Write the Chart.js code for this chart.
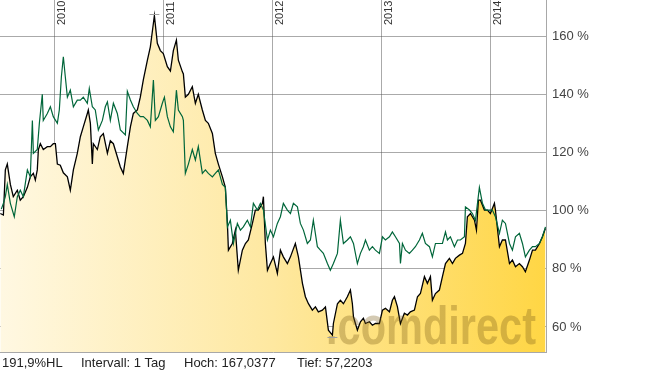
<!DOCTYPE html>
<html>
<head>
<meta charset="utf-8">
<script src="https://cdn.jsdelivr.net/npm/chart.js@4"></script>
<style>
  body { margin: 0; background: #fff; }
  #wrap { width: 645px; height: 372px; }
</style>
</head>
<body>
<div id="wrap"><canvas id="chart" width="645" height="372"></canvas></div>
<script>
// Stock (black, filled) - decimal years and % values
const stockYears = [2009.505, 2009.533, 2009.551, 2009.569, 2009.597, 2009.624, 2009.661, 2009.688, 2009.716, 2009.753,
  2009.780, 2009.808, 2009.826, 2009.844, 2009.854, 2009.872, 2009.899, 2009.936, 2009.964, 2009.991,
  2010.010, 2010.028, 2010.055, 2010.083, 2010.120, 2010.147, 2010.175, 2010.211, 2010.239, 2010.266,
  2010.303, 2010.312, 2010.331, 2010.349, 2010.358, 2010.395, 2010.422, 2010.450, 2010.487, 2010.514,
  2010.542, 2010.578, 2010.606, 2010.633, 2010.670, 2010.698, 2010.725, 2010.762, 2010.789, 2010.817,
  2010.854, 2010.881, 2010.909, 2010.918, 2010.945, 2010.973, 2011.000, 2011.037, 2011.065, 2011.092,
  2011.120, 2011.138, 2011.175, 2011.184, 2011.202, 2011.230, 2011.266, 2011.294, 2011.321, 2011.358,
  2011.386, 2011.413, 2011.450, 2011.477, 2011.505, 2011.542, 2011.569, 2011.588, 2011.597, 2011.633,
  2011.661, 2011.688, 2011.725, 2011.753, 2011.780, 2011.817, 2011.844, 2011.872, 2011.909, 2011.918,
  2011.936, 2011.955, 2011.982, 2012.010, 2012.046, 2012.074, 2012.101, 2012.138, 2012.166, 2012.211,
  2012.239, 2012.276, 2012.303, 2012.331, 2012.367, 2012.395, 2012.422, 2012.459, 2012.487, 2012.514,
  2012.551, 2012.560, 2012.597, 2012.624, 2012.652, 2012.688, 2012.716, 2012.734, 2012.744, 2012.780,
  2012.808, 2012.835, 2012.854, 2012.890, 2012.918, 2012.945, 2012.982, 2013.010, 2013.037, 2013.074,
  2013.101, 2013.120, 2013.147, 2013.175, 2013.211, 2013.239, 2013.266, 2013.303, 2013.331, 2013.358,
  2013.395, 2013.422, 2013.450, 2013.468, 2013.496, 2013.532, 2013.560, 2013.588, 2013.624, 2013.652,
  2013.679, 2013.716, 2013.744, 2013.771, 2013.789, 2013.817, 2013.854, 2013.872, 2013.890, 2013.909,
  2013.945, 2013.973, 2014.000, 2014.037, 2014.046, 2014.083, 2014.110, 2014.138, 2014.175, 2014.202,
  2014.230, 2014.266, 2014.294, 2014.321, 2014.358, 2014.386, 2014.413, 2014.450, 2014.477, 2014.505];
const stockValues = [99, 98.5, 114, 116, 109, 104.8, 107, 103.6, 104.8, 108,
  111.6, 112.8, 110.5, 114, 121, 123, 121, 122, 122, 123,
  123, 116, 115.6, 113, 111.6, 107, 114, 119.7, 125.4, 128.8,
  133.4, 134.6, 130, 116, 123, 121, 125.4, 126.5, 119.7, 124,
  123, 118.5, 115, 112.8, 122, 128.8, 133.4, 134.6, 139, 145,
  151.7, 156.3, 164.4, 167.04, 157.5, 155, 154, 149.5, 148, 155,
  158.6, 151.7, 147.7, 147, 139, 140, 142.6, 136.9, 140, 134.6,
  131, 130, 126.5, 119.7, 116, 111.6, 108, 95.6, 86.4, 88.7,
  93.3, 79.5, 86.4, 88.7, 89.9, 95.6, 100.2, 100.2, 102.5, 104.8,
  88.7, 79.5, 81.8, 84.1, 78.4, 86.4, 84.1, 81.8, 84.1, 88.7,
  84.1, 75, 70.4, 68, 65.8, 66.9, 65.2, 65.8, 66.9, 58.9,
  57.22, 61.2, 68, 69.2, 68, 70.4, 72.7, 68, 63.5, 58.9,
  61.8, 63, 61.2, 61.8, 60.6, 61.2, 61.2, 65.8, 66.4, 65.2,
  69.2, 70.4, 67, 61.2, 64.7, 64.1, 65.2, 65.8, 70.4, 71.5,
  77.3, 75, 77.3, 69.2, 71.5, 72.7, 77.3, 81.8, 83.6, 81.8,
  83.6, 84.7, 85.3, 88.7, 97.9, 99, 96.7, 93.3, 103.6, 103.6,
  100.2, 100.2, 99, 102.5, 100.2, 87.6, 89.9, 89.9, 81.8, 83,
  80.7, 81.8, 80.7, 79, 83, 86.4, 86.4, 88.7, 91, 93.9];

// Comparison index (green line)
const indexYears = [2009.514, 2009.533, 2009.551, 2009.569, 2009.597, 2009.633, 2009.661, 2009.688, 2009.716, 2009.753,
  2009.780, 2009.799, 2009.808, 2009.844, 2009.863, 2009.890, 2009.899, 2009.936, 2009.964, 2009.991,
  2010.028, 2010.046, 2010.065, 2010.083, 2010.101, 2010.120, 2010.147, 2010.175, 2010.211, 2010.239,
  2010.266, 2010.303, 2010.321, 2010.349, 2010.376, 2010.404, 2010.441, 2010.468, 2010.487, 2010.514,
  2010.542, 2010.578, 2010.606, 2010.652, 2010.670, 2010.698, 2010.725, 2010.762, 2010.789, 2010.817,
  2010.854, 2010.881, 2010.909, 2010.927, 2010.955, 2010.991, 2011.010, 2011.037, 2011.065, 2011.092,
  2011.120, 2011.138, 2011.175, 2011.184, 2011.202, 2011.230, 2011.266, 2011.294, 2011.321, 2011.358,
  2011.386, 2011.413, 2011.450, 2011.477, 2011.505, 2011.542, 2011.569, 2011.588, 2011.615, 2011.643,
  2011.679, 2011.707, 2011.734, 2011.771, 2011.799, 2011.826, 2011.863, 2011.890, 2011.918, 2011.955,
  2011.982, 2012.010, 2012.046, 2012.074, 2012.101, 2012.138, 2012.166, 2012.193, 2012.230, 2012.257,
  2012.285, 2012.321, 2012.349, 2012.376, 2012.413, 2012.441, 2012.468, 2012.505, 2012.532, 2012.560,
  2012.597, 2012.624, 2012.652, 2012.688, 2012.716, 2012.744, 2012.780, 2012.808, 2012.835, 2012.854,
  2012.890, 2012.918, 2012.945, 2012.982, 2013.010, 2013.037, 2013.074, 2013.101, 2013.129, 2013.166,
  2013.175, 2013.193, 2013.221, 2013.257, 2013.285, 2013.312, 2013.349, 2013.376, 2013.404, 2013.441,
  2013.468, 2013.496, 2013.532, 2013.560, 2013.588, 2013.606, 2013.633, 2013.670, 2013.698, 2013.725,
  2013.762, 2013.771, 2013.808, 2013.835, 2013.863, 2013.899, 2013.927, 2013.955, 2013.991, 2014.018,
  2014.046, 2014.083, 2014.110, 2014.138, 2014.175, 2014.202, 2014.230, 2014.266, 2014.294, 2014.321,
  2014.358, 2014.386, 2014.413, 2014.450, 2014.477, 2014.505];
const indexValues = [100.5, 102.5, 104.8, 109, 102.5, 97.9, 104.8, 107, 104.8, 114,
  111.6, 131, 119.7, 121, 130, 140, 131, 133.4, 135.7, 132.3,
  130, 134.6, 146, 152.9, 146, 139, 141.4, 135.7, 138, 138,
  139, 136.9, 142, 135.7, 134.6, 127.7, 131, 135.7, 137.4, 131,
  136.9, 133.4, 127.7, 126, 141, 138, 135.7, 133.4, 132.3, 132.3,
  131, 128.8, 144.9, 131, 132.3, 136.9, 139, 132.3, 128.8, 127.1,
  141.4, 134.6, 132.3, 131, 112.8, 116, 121, 117.4, 122, 112.8,
  114, 112.8, 111.6, 112.8, 114, 109, 108, 94.4, 96.7, 88.7,
  95.6, 93.3, 94.4, 96.7, 94.4, 102.5, 100.2, 102.5, 100.2, 89.9,
  93.3, 91, 95.6, 97.9, 102.5, 100.2, 99, 102.5, 101.3, 95.6,
  93.3, 88.7, 89.9, 96.7, 87.6, 86.4, 85.3, 81.8, 79.5, 81.8,
  85.3, 96.7, 88.7, 89.9, 91, 88.7, 81.8, 85.3, 87.6, 89.9,
  86.4, 87.6, 86.4, 85.3, 91, 89.9, 91, 92.7, 91, 88.7,
  81.8, 88.7, 86.4, 85.3, 86.4, 87.6, 89.9, 92.2, 88.7, 87.6,
  84.1, 88.7, 88.7, 88.7, 92.7, 89.9, 91, 87.6, 89.9, 89.9,
  91, 101.3, 100.2, 99, 96.7, 108, 102.5, 100.2, 100.2, 100.2,
  97.9, 92.2, 96.7, 95.6, 88.7, 86.4, 91, 92.2, 88.7, 84.1,
  86.4, 87.6, 87.6, 88.7, 91, 94.4];

const yearTicks = [2010, 2011, 2012, 2013, 2014];
const percentTicks = [60, 80, 100, 120, 140, 160];
const footerTexts = ['191,9%HL', 'Intervall: 1 Tag', 'Hoch: 167,0377', 'Tief: 57,2203'];
const footerX = [2, 81, 184, 297];

const FONT = "Arial, 'Liberation Sans', sans-serif";
const gridColor = 'rgba(85,85,85,0.5)';

// Year labels, high/low markers, watermark and footer line
const extrasPlugin = {
  id: 'extras',
  afterDraw(chart) {
    const { ctx, chartArea, scales } = chart;
    const xs = scales.x, ys = scales.y;

    // watermark
    ctx.save();
    ctx.beginPath();
    ctx.rect(chartArea.left, chartArea.top, chartArea.right - chartArea.left, chartArea.bottom - chartArea.top);
    ctx.clip();
    ctx.font = 'bold 54px ' + FONT;
    const wm = '.comdirect';
    const w = ctx.measureText(wm).width;
    ctx.translate(chartArea.right - 220, chartArea.bottom - 8);
    ctx.scale(210 / w, 1);
    ctx.fillStyle = 'rgba(125,95,25,0.33)';
    ctx.textBaseline = 'alphabetic';
    ctx.fillText(wm, 0, 0);
    ctx.restore();

    // year labels, rotated inside the plot
    ctx.save();
    ctx.font = '11px ' + FONT;
    ctx.fillStyle = '#333';
    yearTicks.forEach(yr => {
      const px = xs.getPixelForValue(yr);
      ctx.save();
      ctx.translate(px + 11, chartArea.top + 25);
      ctx.rotate(-Math.PI / 2);
      ctx.textAlign = 'left';
      ctx.textBaseline = 'alphabetic';
      ctx.fillText(String(yr), 0, 0);
      ctx.restore();
    });
    ctx.restore();

    // high / low markers
    let hi = 0, lo = 0;
    stockValues.forEach((v, i) => {
      if (v > stockValues[hi]) hi = i;
      if (v < stockValues[lo]) lo = i;
    });
    ctx.save();
    ctx.strokeStyle = '#a0a0a0';
    ctx.lineWidth = 1;
    [[hi, -1.5], [lo, 1.5]].forEach(([i, off]) => {
      const px = xs.getPixelForValue(stockYears[i]);
      const py = Math.round(ys.getPixelForValue(stockValues[i]) + off) + 0.5;
      ctx.beginPath();
      ctx.moveTo(px - 5, py);
      ctx.lineTo(px + 5, py);
      ctx.stroke();
    });
    ctx.restore();

    // footer
    ctx.save();
    ctx.font = '13px ' + FONT;
    ctx.fillStyle = '#222';
    ctx.textBaseline = 'alphabetic';
    footerTexts.forEach((t, i) => ctx.fillText(t, footerX[i], 367));
    ctx.restore();
  }
};

const chartCtx = document.getElementById('chart').getContext('2d');
new Chart(chartCtx, {
  type: 'line',
  data: {
    datasets: [
      {
        label: 'Aktie',
        data: stockYears.map((x, i) => ({ x, y: stockValues[i] })),
        borderColor: '#000',
        borderWidth: 1.3,
        fill: 'start',
        backgroundColor: (c) => {
          const { chart } = c;
          const area = chart.chartArea;
          if (!area) return 'rgba(255,230,140,1)';
          const g = chart.ctx.createLinearGradient(area.left, 0, area.right, 0);
          g.addColorStop(0, 'rgb(255,248,226)');
          g.addColorStop(0.5, 'rgb(254,232,160)');
          g.addColorStop(1, 'rgb(255,214,68)');
          return g;
        },
        pointRadius: 0,
        tension: 0,
        order: 2
      },
      {
        label: 'Index',
        data: indexYears.map((x, i) => ({ x, y: indexValues[i] })),
        borderColor: '#00663a',
        borderWidth: 1.2,
        fill: false,
        pointRadius: 0,
        tension: 0,
        order: 1
      }
    ]
  },
  options: {
    responsive: false,
    devicePixelRatio: 1,
    animation: false,
    layout: { padding: 0 },
    plugins: { legend: { display: false }, tooltip: { enabled: false } },
    scales: {
      x: {
        type: 'linear',
        min: 2009.502,
        max: 2014.51,
        z: 1,
        afterBuildTicks: (s) => { s.ticks = yearTicks.map(v => ({ value: v })); },
        afterFit: (s) => { s.height = 20; s.paddingLeft = 0; s.paddingRight = 0; },
        ticks: { display: false },
        grid: { color: gridColor, drawTicks: false },
        border: { display: true, color: '#a8a8a8' }
      },
      y: {
        type: 'linear',
        position: 'right',
        min: 51.4,
        max: 172.4,
        z: 1,
        afterBuildTicks: (s) => { s.ticks = percentTicks.map(v => ({ value: v })); },
        afterFit: (s) => { s.width = 99; s.paddingTop = 0; s.paddingBottom = 0; },
        ticks: {
          padding: 6,
          color: '#444',
          font: { family: FONT, size: 13 },
          callback: (v) => v + ' %'
        },
        grid: { color: gridColor, drawTicks: false },
        border: { display: true, color: '#a8a8a8' }
      }
    }
  },
  plugins: [extrasPlugin]
});
</script>
</body>
</html>
